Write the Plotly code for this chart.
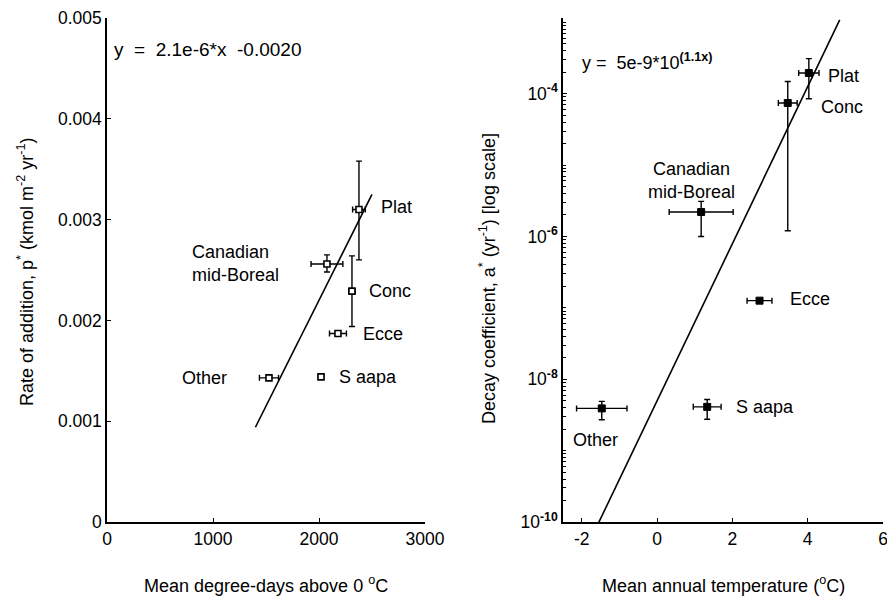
import numpy as np
import plotly.graph_objects as go

# ---------------- data ----------------
sites = ["Plat", "Canadian mid-Boreal", "Conc", "Ecce", "S aapa", "Other"]

# Left panel: degree-days vs rate of addition
dd = [2377, 2075, 2311, 2179, 2019, 1528]
dd_err = [60, 150, 30, 80, 25, 90]
p_add = [0.00310, 0.00256, 0.00229, 0.00187, 0.00144, 0.00143]
p_err_plus = [0.00048, 0.00009, 0.00035, 0.0, 0.0, 0.0]
p_err_minus = [0.00050, 0.00008, 0.00035, 0.0, 0.0, 0.0]

# Right panel: mean annual temperature vs decay coefficient
right_sites = ["Plat", "Conc", "Canadian mid-Boreal", "Ecce", "S aapa", "Other"]
mat = [4.03, 3.47, 1.17, 2.72, 1.33, -1.47]
mat_err = [0.27, 0.25, 0.85, 0.33, 0.37, 0.67]
decay = [1.95e-4, 7.4e-5, 2.2e-6, 1.26e-7, 4.1e-9, 3.9e-9]
decay_hi = [3.1e-4, 1.48e-4, 3.1e-6, 1.26e-7, 5.2e-9, 4.9e-9]
decay_lo = [8.5e-5, 1.2e-6, 1.0e-6, 1.26e-7, 2.75e-9, 2.7e-9]

# regression lines
lin_slope, lin_icpt = 2.1e-6, -0.0020
lin_x = [1400, 2500]
exp_a, exp_b = 5e-9, 1.1
exp_x = [-1.55, 4.85]

# tick labels
left_xticks = [0, 1000, 2000, 3000]
left_yticks = [0, 0.001, 0.002, 0.003, 0.004, 0.005]
left_yticktext = ["0", "0.001", "0.002", "0.003", "0.004", "0.005"]
right_xticks = [-2, 0, 2, 4, 6]
right_xticktext = ["-2", "0", "2", "4", "6"]
right_major_exp = [-10, -8, -6, -4]

# label positions
left_labels = [
    ("Plat", 2566, 0.00313, "left"),
    ("Canadian<br>mid-Boreal", 783, 0.00256, "left"),
    ("Conc", 2450, 0.00229, "left"),
    ("Ecce", 2396, 0.00187, "left"),
    ("S aapa", 2170, 0.00144, "left"),
    ("Other", 1151, 0.00143, "right"),
]
right_labels = [
    ("Plat", 4.48, 1.74e-4, "left"),
    ("Conc", 4.29, 6.6e-5, "left"),
    ("Canadian<br>mid-Boreal", 0.9, 6.0e-6, "center"),
    ("Ecce", 3.47, 1.35e-7, "left"),
    ("S aapa", 2.05, 4.1e-9, "left"),
    ("Other", -1.63, 1.41e-9, "center"),
]

FONT = "Liberation Sans, Arial, sans-serif"
W, H = 887, 598
LBL = 18

fig = go.Figure()

# left panel
fig.add_trace(go.Scatter(
    x=lin_x, y=[lin_slope * v + lin_icpt for v in lin_x],
    mode="lines", line=dict(color="black", width=1.6),
    xaxis="x", yaxis="y", showlegend=False, hoverinfo="skip"))
fig.add_trace(go.Scatter(
    x=dd, y=p_add, mode="markers", text=sites,
    marker=dict(symbol="square", size=6, color="white",
                line=dict(color="black", width=1.6)),
    error_x=dict(type="data", array=dd_err, color="black", thickness=1.4, width=3),
    error_y=dict(type="data", array=p_err_plus, arrayminus=p_err_minus,
                 color="black", thickness=1.4, width=3),
    xaxis="x", yaxis="y", showlegend=False))

# right panel
ex = np.linspace(exp_x[0], exp_x[1], 50)
fig.add_trace(go.Scatter(
    x=ex, y=exp_a * 10 ** (exp_b * ex),
    mode="lines", line=dict(color="black", width=1.6),
    xaxis="x2", yaxis="y2", showlegend=False, hoverinfo="skip"))
fig.add_trace(go.Scatter(
    x=mat, y=decay, mode="markers", text=right_sites,
    marker=dict(symbol="square", size=7, color="black",
                line=dict(color="black", width=1)),
    error_x=dict(type="data", array=mat_err, color="black", thickness=1.4, width=3),
    error_y=dict(type="data",
                 array=[h - d for h, d in zip(decay_hi, decay)],
                 arrayminus=[d - l for d, l in zip(decay, decay_lo)],
                 color="black", thickness=1.4, width=3),
    xaxis="x2", yaxis="y2", showlegend=False))

# log ticks
major_vals = [10.0 ** e for e in right_major_exp]
major_text = [f"10<sup><b>{e}</b></sup>" for e in right_major_exp]
minor_vals = []
for e in range(-10, -2):
    for m in range(1, 10):
        v = m * 10.0 ** e
        if np.log10(v) > -2.94 or (m == 1 and e in right_major_exp):
            continue
        minor_vals.append(v)

axis_common = dict(showline=True, linecolor="black", linewidth=1.5, showgrid=False,
                   zeroline=False, ticks="inside", ticklen=4, tickwidth=1.3,
                   tickcolor="black", mirror=False, automargin=False,
                   ticklabeloverflow="allow",
                   tickfont=dict(family=FONT, size=17.5, color="black"))

yb, yt = (H - 522) / H, (H - 18) / H

fig.update_layout(
    width=W, height=H, margin=dict(l=0, r=0, t=0, b=0, autoexpand=False),
    paper_bgcolor="white", plot_bgcolor="white",
    font=dict(family=FONT, size=LBL, color="black"),
    xaxis=dict(domain=[107 / W, 425 / W], range=[0, 3000], tickvals=left_xticks,
               anchor="y", **axis_common),
    yaxis=dict(domain=[yb, yt], range=[0, 0.005], tickvals=left_yticks,
               ticktext=left_yticktext, anchor="x", **axis_common),
    xaxis2=dict(domain=[563 / W, 883 / W], range=[-2.5, 6], tickvals=right_xticks,
                ticktext=right_xticktext, anchor="y2", **axis_common),
    yaxis2=dict(domain=[yb, yt], type="log", range=[-10, -2.94], tickvals=major_vals,
                ticktext=major_text, anchor="x2",
                minor=dict(tickvals=minor_vals, ticks="inside", ticklen=3,
                           tickwidth=1.1, tickcolor="black", showgrid=False),
                **axis_common),
)

ann = []
for t, x, y, a in left_labels:
    ann.append(dict(x=x, y=y, xref="x", yref="y", text=t, showarrow=False,
                    xanchor=a, yanchor="middle", align="left",
                    font=dict(family=FONT, size=LBL)))
for t, x, y, a in right_labels:
    ann.append(dict(x=x, y=np.log10(y), xref="x2", yref="y2", text=t, showarrow=False,
                    xanchor=a, yanchor="middle", align="center",
                    font=dict(family=FONT, size=LBL)))
free = [
    dict(x=112, y=50, text="y  =  2.1e-6*x  -0.0020", xanchor="left",
         font=dict(family=FONT, size=19)),
    dict(x=580, y=61, text="y =  5e-9*10<sup><b>(1.1x)</b></sup>", xanchor="left",
         font=dict(family=FONT, size=18)),
    dict(x=266, y=584, text="Mean degree-days above 0 <sup>o</sup>C", xanchor="center",
         font=dict(family=FONT, size=LBL)),
    dict(x=723, y=584, text="Mean annual temperature (<sup>o</sup>C)", xanchor="center",
         font=dict(family=FONT, size=LBL)),
    dict(x=26, y=272, text="Rate of addition, p<sup>*</sup> (kmol m<sup>-2</sup> yr<sup>-1</sup>)",
         textangle=-90, xanchor="center", font=dict(family=FONT, size=LBL)),
    dict(x=487, y=278, text="Decay coefficient, a<sup>*</sup> (yr<sup>-1</sup>) [log scale]",
         textangle=-90, xanchor="center", font=dict(family=FONT, size=LBL)),
]
for a in free:
    a.update(xref="paper", yref="paper", showarrow=False, yanchor="middle",
             x=a["x"] / W, y=1 - a["y"] / H)
    ann.append(a)
fig.update_layout(annotations=ann)

fig.write_html("out.html")
